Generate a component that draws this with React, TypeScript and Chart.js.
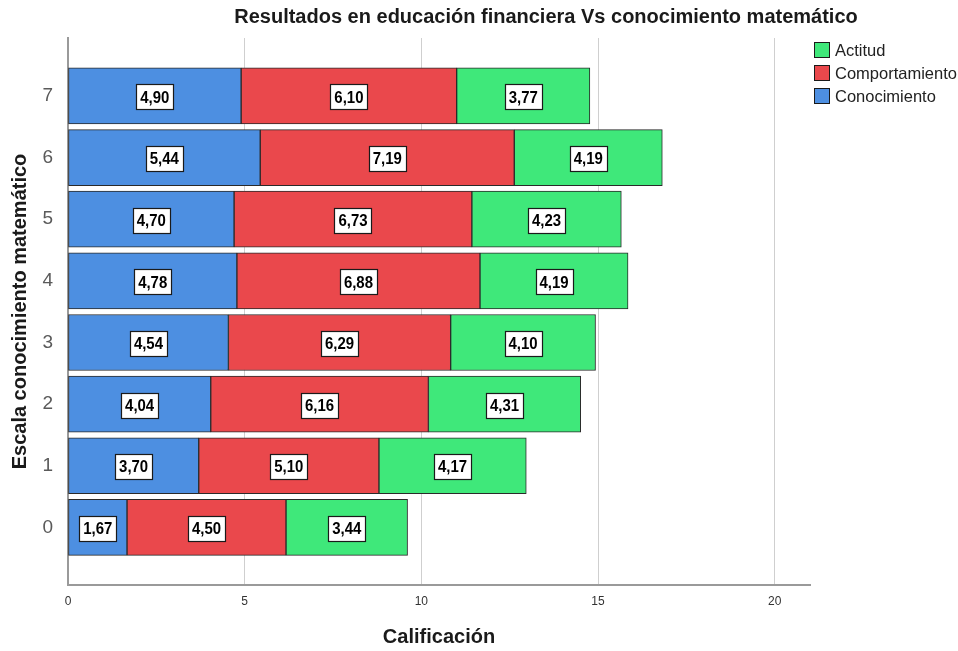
import React, { useEffect, useRef } from "react";
import { Chart, registerables } from "chart.js";

Chart.register(...registerables);

// Mathematical-knowledge scale (y) and the three financial-education scores
const levels = [0, 1, 2, 3, 4, 5, 6, 7];
const conocimiento = [1.67, 3.7, 4.04, 4.54, 4.78, 4.7, 5.44, 4.9];
const comportamiento = [4.5, 5.1, 6.16, 6.29, 6.88, 6.73, 7.19, 6.1];
const actitud = [3.44, 4.17, 4.31, 4.1, 4.19, 4.23, 4.19, 3.77];
const xTicks = [0, 5, 10, 15, 20];

const TITLE = "Resultados en educación financiera Vs conocimiento matemático";
const FONT = "'Liberation Sans', Arial, sans-serif";

const colors = {
  conocimiento: "#4d8fe1",
  comportamiento: "#ea484c",
  actitud: "#3fe87a",
};

const fmt = (v: number) => v.toFixed(2).replace(".", ",");

// Title, legend and value boxes drawn on top of the chart
const decorPlugin = {
  id: "decor",
  afterDatasetsDraw(chart: any) {
    const ctx = chart.ctx as CanvasRenderingContext2D;
    ctx.save();
    const sx = 0.88; // slightly narrow lettering for the value boxes
    ctx.font = `bold 17px ${FONT}`;
    ctx.textAlign = "center";
    ctx.textBaseline = "middle";
    chart.data.datasets.forEach((ds: any, di: number) => {
      const meta = chart.getDatasetMeta(di);
      meta.data.forEach((bar: any, i: number) => {
        const v = ds.data[i].x;
        const { x, y, base } = bar.getProps(["x", "y", "base"], true);
        const cx = (x + base) / 2;
        const txt = fmt(v);
        const w = Math.round(ctx.measureText(txt).width * sx + 8);
        const h = 25;
        const bx = Math.round(cx - w / 2) + 0.5;
        const by = Math.round(y - h / 2 + 1) + 0.5;
        ctx.fillStyle = "#ffffff";
        ctx.fillRect(bx, by, w, h);
        ctx.strokeStyle = "#1a1a1a";
        ctx.lineWidth = 1.2;
        ctx.strokeRect(bx, by, w, h);
        ctx.fillStyle = "#000000";
        ctx.save();
        ctx.translate(cx, y + 2);
        ctx.scale(sx, 1);
        ctx.fillText(txt, 0, 0);
        ctx.restore();
      });
    });
    ctx.restore();
  },
  afterDraw(chart: any) {
    const ctx = chart.ctx as CanvasRenderingContext2D;
    ctx.save();
    // title
    ctx.font = `bold 20px ${FONT}`;
    ctx.fillStyle = "#1a1a1a";
    ctx.textAlign = "center";
    ctx.textBaseline = "middle";
    ctx.fillText(TITLE, 546, 17);
    // legend
    const items = [
      { label: "Actitud", color: colors.actitud },
      { label: "Comportamiento", color: colors.comportamiento },
      { label: "Conocimiento", color: colors.conocimiento },
    ];
    ctx.font = `16.5px ${FONT}`;
    ctx.textAlign = "left";
    items.forEach((it, i) => {
      const y = 42 + i * 23;
      ctx.fillStyle = it.color;
      ctx.fillRect(814.5, y + 0.5, 15, 15);
      ctx.strokeStyle = "#1a1a1a";
      ctx.lineWidth = 1;
      ctx.strokeRect(814.5, y + 0.5, 15, 15);
      ctx.fillStyle = "#222222";
      ctx.fillText(it.label, 835, y + 9);
    });
    ctx.restore();
  },
};

export default function App() {
  const ref = useRef<HTMLCanvasElement>(null);

  useEffect(() => {
    const mk = (vals: number[]) => vals.map((v, i) => ({ x: v, y: levels[i] }));
    const chart = new Chart(ref.current!, {
      type: "bar",
      data: {
        datasets: [
          { label: "Conocimiento", data: mk(conocimiento), backgroundColor: colors.conocimiento },
          { label: "Comportamiento", data: mk(comportamiento), backgroundColor: colors.comportamiento },
          { label: "Actitud", data: mk(actitud), backgroundColor: colors.actitud },
        ].map((d) => ({
          ...d,
          borderColor: "#2a2a2a",
          borderWidth: 1,
          borderSkipped: false,
          barThickness: 56,
        })) as any,
      },
      options: {
        indexAxis: "y",
        animation: false,
        responsive: false,
        maintainAspectRatio: false,
        layout: { padding: { top: 38, right: 148, left: 0, bottom: 0 } },
        plugins: {
          legend: { display: false },
          title: { display: false },
          tooltip: { enabled: false },
        },
        scales: {
          x: {
            type: "linear",
            stacked: true,
            min: 0,
            max: 21,
            afterBuildTicks: (s: any) => {
              s.ticks = xTicks.map((v) => ({ value: v }));
            },
            afterFit: (s: any) => {
              s.height = 66;
            },
            grid: {
              color: "#cfcfcf",
              lineWidth: 1,
              drawTicks: false,
            },
            border: { display: true, color: "#9a9a9a", width: 2 },
            ticks: {
              color: "#333333",
              font: { family: FONT, size: 12 },
              padding: 9,
              maxRotation: 0,
            },
            title: {
              display: true,
              text: "Calificación",
              color: "#1a1a1a",
              font: { family: FONT, size: 20, weight: "bold" },
              padding: { top: 0, bottom: 2 },
            },
          },
          y: {
            type: "linear",
            stacked: true,
            offset: false,
            min: -0.935,
            max: 7.94,
            afterBuildTicks: (s: any) => {
              s.ticks = levels.map((v) => ({ value: v }));
            },
            afterFit: (s: any) => {
              s.width = 68;
            },
            grid: { display: false },
            border: { display: true, color: "#9a9a9a", width: 2 },
            ticks: {
              color: "#5a5a5a",
              font: { family: FONT, size: 19 },
              padding: 7,
            },
            title: {
              display: true,
              text: "Escala conocimiento matemático",
              color: "#1a1a1a",
              font: { family: FONT, size: 20, weight: "bold" },
              padding: { top: 8, bottom: 0 },
            },
          },
        },
      },
      plugins: [decorPlugin],
    } as any);
    return () => chart.destroy();
  }, []);

  return (
    <div style={{ position: "fixed", left: 0, top: 0, width: 958, height: 651, background: "#fff" }}>
      <canvas ref={ref} width={958} height={651} style={{ display: "block" }} />
    </div>
  );
}
